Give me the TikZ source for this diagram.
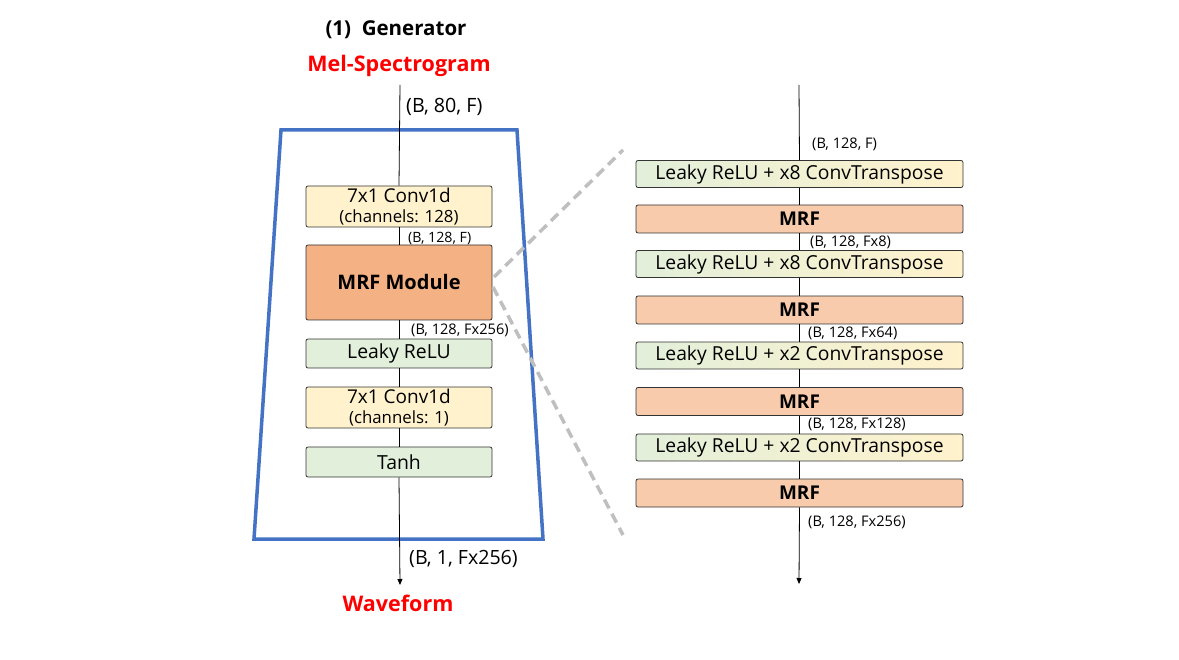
\documentclass[tikz,border=0pt]{standalone}
\usepackage{fontspec}
\setmainfont{Open Sans}
\usetikzlibrary{arrows.meta}
\definecolor{bluetrap}{HTML}{4472C4}
\definecolor{yel}{HTML}{FFF2CC}
\definecolor{grn}{HTML}{E2EFDA}
\definecolor{mrfdark}{HTML}{F4B183}
\definecolor{mrflight}{HTML}{F8CBAD}
\definecolor{dashgray}{HTML}{BFBFBF}
\definecolor{redtxt}{HTML}{FF0000}
\tikzset{
  blk/.style={draw=black!80, line width=0.8pt, rounded corners=2pt, inner sep=0pt, align=center},
  lblk/.style={blk, minimum width=186pt},
  rblk/.style={blk, minimum width=327pt},
  shp/.style={font=\fontsize{14.6}{16}\selectfont, inner sep=0pt, anchor=west},
  conn/.style={black, line width=0.8pt},
  arr/.style={conn, -{Triangle[length=6pt,width=5pt]}},
  convblk/.style={lblk, fill=yel, minimum height=41pt, font=\fontsize{19}{22}\selectfont},
}
\begin{document}
\begin{tikzpicture}[x=1pt,y=-1pt]
\useasboundingbox (0,0) rectangle (1179,660);
% titles
\node[font=\fontsize{20.5}{24}\selectfont\bfseries] (title) at (396,30) {(1)~ Generator};
\node[font=\fontsize{21.5}{24}\selectfont\bfseries, text=redtxt] (mel) at (399,66) {Mel-Spectrogram};
\node[font=\fontsize{21.5}{24}\selectfont\bfseries, text=redtxt] (wave) at (398,603) {Waveform};
% trapezoid
\draw[bluetrap, line width=3.5pt] (281,130) -- (517,130) -- (543,539) -- (254,539) -- cycle;
% left column
\coordinate (ltop) at (400,85);
\coordinate (lbot) at (400,585);
\node[convblk] (c1) at (399,206.5) {7x1 Conv1d\\[-1.5pt]{\fontsize{16.8}{18}\selectfont (channels: 128)}};
\node[lblk, fill=mrfdark, minimum height=75pt, font=\fontsize{20}{22}\selectfont\bfseries] (mrfm) at (399,282.5) {MRF Module};
\node[lblk, fill=grn, minimum height=29pt, font=\fontsize{19.4}{22}\selectfont] (lr) at (399,353.5) {Leaky ReLU};
\node[convblk] (c2) at (399,407.5) {7x1 Conv1d\\[-1.5pt]{\fontsize{16.8}{18}\selectfont (channels: 1)}};
\node[lblk, fill=grn, minimum height=30pt, font=\fontsize{19.4}{22}\selectfont] (tanh) at (399,462) {Tanh};
\draw[conn] (ltop) -- (c1.north);
\draw[conn] (c1.south) -- (mrfm.north);
\draw[conn] (mrfm.south) -- (lr.north);
\draw[conn] (lr.south) -- (c2.north);
\draw[conn] (c2.south) -- (tanh.north);
\draw[arr] (tanh.south) -- (lbot);
\node[shp, font=\fontsize{19.7}{22}\selectfont] (s1) at (406,107) {(B, 80, F)};
\node[shp, font=\fontsize{14.2}{16}\selectfont] (s2) at (408,238) {(B, 128, F)};
\node[shp] (s3) at (411,330) {(B, 128, Fx256)};
\node[shp, font=\fontsize{19.6}{22}\selectfont] (s4) at (409,559) {(B, 1, Fx256)};
% zoom lines
\coordinate (zt) at (623,150);
\coordinate (zb) at (623,535);
\draw[dashgray, line width=3.5pt, dash pattern=on 10pt off 6pt] (494,277) -- (zt);
\draw[dashgray, line width=3.5pt, dash pattern=on 10pt off 6pt] (493,287) -- (zb);
% right column
\coordinate (rtop) at (799,85);
\coordinate (rbot) at (799,584);
\tikzset{lrg/.style={rblk, left color=grn, right color=yel, minimum height=27pt, font=\fontsize{19.3}{20}\selectfont},
         mrfr/.style={rblk, fill=mrflight, minimum height=28pt, font=\fontsize{19}{20}\selectfont\bfseries}}
\node[lrg] (r1) at (799.5,174) {Leaky ReLU + x8 ConvTranspose};
\node[mrfr] (m1) at (799.5,219) {MRF};
\node[lrg] (r2) at (799.5,264) {Leaky ReLU + x8 ConvTranspose};
\node[mrfr] (m2) at (799.5,310) {MRF};
\node[lrg] (r3) at (799.5,355.5) {Leaky ReLU + x2 ConvTranspose};
\node[mrfr] (m3) at (799.5,401.5) {MRF};
\node[lrg] (r4) at (799.5,447.5) {Leaky ReLU + x2 ConvTranspose};
\node[mrfr] (m4) at (799.5,493) {MRF};
\draw[conn] (rtop) -- (r1.north);
\draw[conn] (r1.south) -- (m1.north);
\draw[conn] (m1.south) -- (r2.north);
\draw[conn] (r2.south) -- (m2.north);
\draw[conn] (m2.south) -- (r3.north);
\draw[conn] (r3.south) -- (m3.north);
\draw[conn] (m3.south) -- (r4.north);
\draw[conn] (r4.south) -- (m4.north);
\draw[arr] (m4.south) -- (rbot);
\node[shp] (t1) at (812,144) {(B, 128, F)};
\node[shp] (t2) at (810,242) {(B, 128, Fx8)};
\node[shp] (t3) at (808,333) {(B, 128, Fx64)};
\node[shp] (t4) at (808,424) {(B, 128, Fx128)};
\node[shp] (t5) at (808,522) {(B, 128, Fx256)};
\end{tikzpicture}
\end{document}
